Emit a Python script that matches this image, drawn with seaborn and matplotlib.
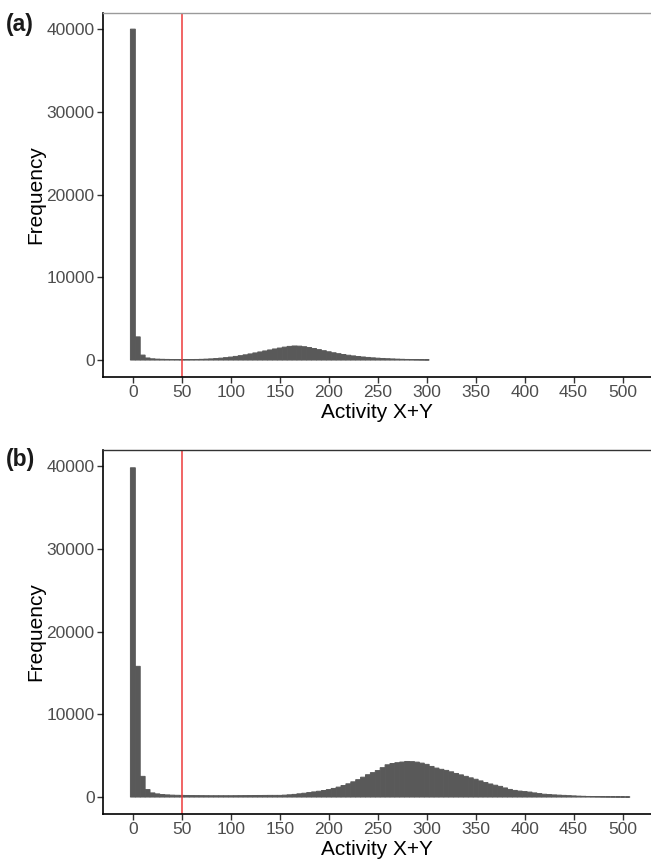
import numpy as np
import pandas as pd
import matplotlib
matplotlib.use("Agg")
import matplotlib.pyplot as plt
import seaborn as sns

# ---- data (bin centres, width 5) ----
bin_width = 5
centres_a = list(range(0, 305, 5))
counts_a = [40000, 2800, 600, 250, 150, 110, 90, 75, 65, 60,
            55, 55, 60, 70, 85, 110, 140, 180, 230, 290,
            360, 440, 530, 630, 740, 860, 980, 1100, 1220, 1340,
            1450, 1560, 1650, 1700, 1680, 1610, 1510, 1390, 1260, 1130,
            1000, 880, 770, 670, 580, 500, 430, 370, 315, 265,
            225, 190, 160, 135, 110, 90, 72, 58, 45, 35, 25]

centres_b = list(range(0, 510, 5))
counts_b = [39800, 15800, 2500, 900, 500, 380, 300, 260, 230, 210,
            200, 190, 180, 175, 170, 165, 160, 160, 160, 160,
            160, 165, 170, 175, 180, 185, 190, 195, 200, 200,
            200, 230, 270, 320, 390, 460, 540, 620, 700, 790,
            900, 1040, 1200, 1390, 1600, 1840, 2100, 2400, 2700, 2950,
            3200, 3550, 3900, 4050, 4150, 4230, 4300, 4280, 4220, 4100,
            3950, 3700, 3500, 3350, 3220, 3050, 2850, 2680, 2500, 2320,
            2150, 1950, 1750, 1580, 1430, 1290, 1100, 920, 800, 720,
            660, 600, 500, 420, 340, 300, 260, 230, 200, 170,
            140, 110, 90, 70, 55, 45, 35, 28, 22, 17, 12, 8]

threshold = 50
x_ticks = list(range(0, 550, 50))
y_ticks = [0, 10000, 20000, 30000, 40000]
panel_labels = ["(a)", "(b)"]
x_title = "Activity X+Y"
y_title = "Frequency"

sns.set_theme(style="ticks")
plt.rcParams['font.family'] = ['Liberation Sans', 'DejaVu Sans']

fig = plt.figure(figsize=(6.51, 8.67), dpi=100)
W, H = 651, 867
def rect(left, top, right, bottom):
    return [left / W, 1 - bottom / H, (right - left) / W, (bottom - top) / H]

axes = [fig.add_axes(rect(103, 13, 651, 377)),
        fig.add_axes(rect(103, 450, 651, 814))]
top_colors = ["#9a9a9a", "#333333"]
label_y = [25, 460]
bar_color = "#595959"

for ax, centres, counts, lab, tc, ly in zip(
        axes, [centres_a, centres_b], [counts_a, counts_b], panel_labels, top_colors, label_y):
    df = pd.DataFrame({"x": centres, "n": counts})
    lo = centres[0] - bin_width / 2
    hi = centres[-1] + bin_width / 2
    sns.histplot(data=df, x="x", weights="n", binwidth=bin_width, binrange=(lo, hi),
                 color=bar_color, alpha=1, linewidth=0.7, edgecolor=bar_color, ax=ax)
    for p in ax.patches:
        p.set_snap(False)
    ax.axvline(threshold, color="#ee3a3a", linewidth=1.1)
    ax.set_xlim(-30.5, 529)
    ax.set_ylim(-2050, 41950)
    ax.set_xticks(x_ticks)
    ax.set_yticks(y_ticks)
    ax.set_xlabel(x_title, fontsize=15, color="black", labelpad=2)
    ax.set_ylabel(y_title, fontsize=15, color="black", labelpad=1)
    ax.tick_params(axis="both", labelsize=12.5, labelcolor="#4d4d4d",
                   color="#333333", length=4, width=1, pad=2)
    for s in ["left", "bottom"]:
        ax.spines[s].set_color("black")
        ax.spines[s].set_linewidth(1.2)
    ax.spines["right"].set_visible(False)
    ax.spines["top"].set_visible(True)
    ax.spines["top"].set_color(tc)
    ax.spines["top"].set_linewidth(1.0)
    fig.text(6 / W, 1 - ly / H, lab, fontsize=16.5, fontweight="bold",
             ha="left", va="center", color="#1a1a1a")

fig.savefig("out.png", dpi=100)
